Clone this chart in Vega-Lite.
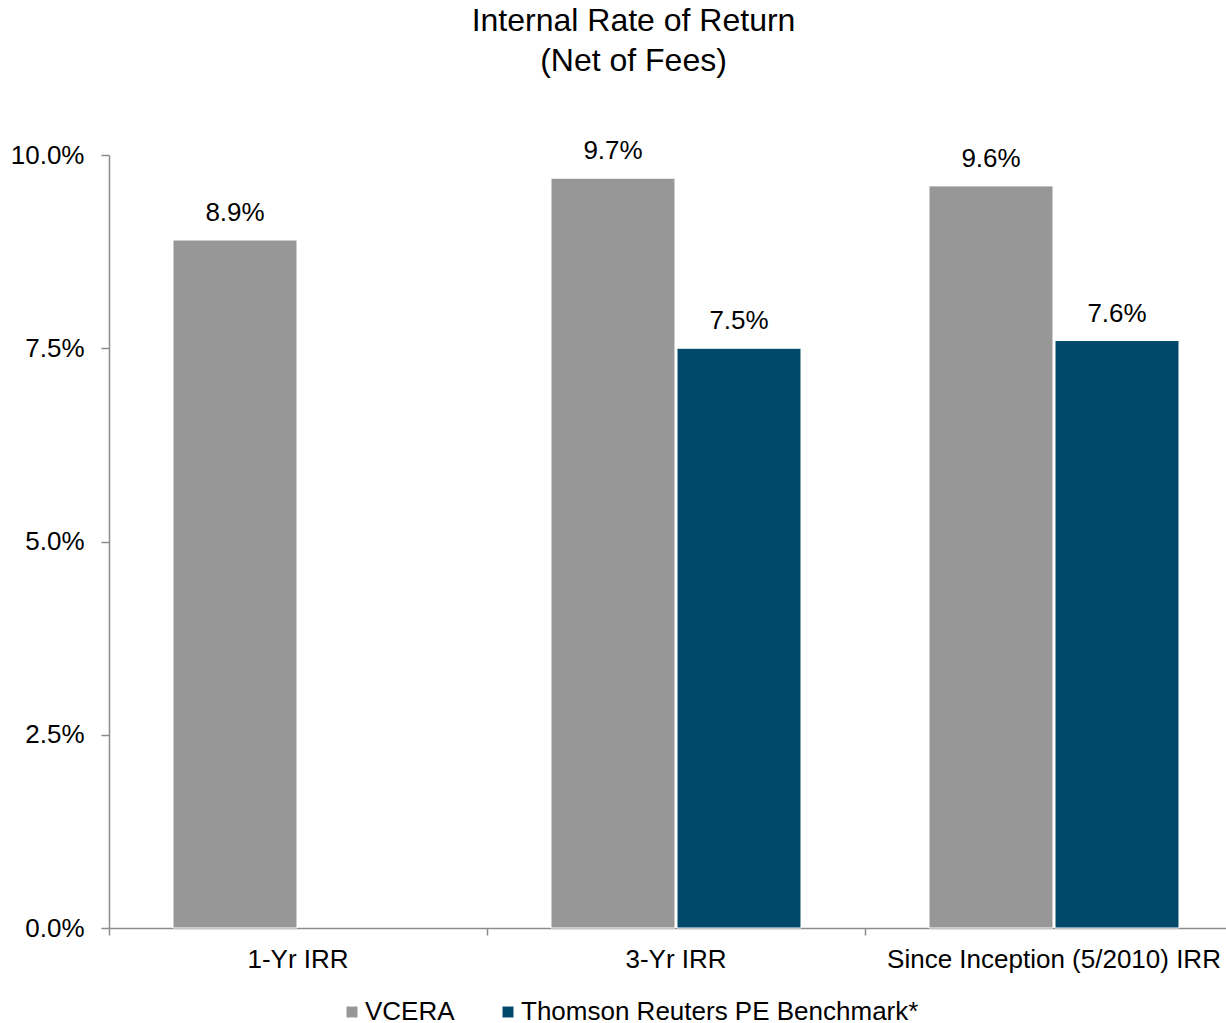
{
  "$schema": "https://vega.github.io/schema/vega-lite/v6.json",
  "autosize": {"type": "none"},
  "width": 1117,
  "height": 773,
  "padding": {"left": 109, "top": 155, "right": 0, "bottom": 95},
  "background": "white",
  "title": {
    "text": ["Internal Rate of Return", "(Net of Fees)"],
    "fontSize": 32,
    "font": "Liberation Sans",
    "fontWeight": "normal",
    "color": "#000000",
    "anchor": "middle",
    "dx": -34,
    "offset": 60,
    "lineHeight": 40
  },
  "data": {
    "values": [
      {"period": "1-Yr IRR", "series": "VCERA", "irr": 0.089},
      {"period": "3-Yr IRR", "series": "VCERA", "irr": 0.097},
      {"period": "3-Yr IRR", "series": "Thomson Reuters PE Benchmark*", "irr": 0.075},
      {"period": "Since Inception (5/2010) IRR", "series": "VCERA", "irr": 0.096},
      {"period": "Since Inception (5/2010) IRR", "series": "Thomson Reuters PE Benchmark*", "irr": 0.076}
    ]
  },
  "encoding": {
    "x": {
      "field": "period",
      "type": "nominal",
      "sort": null,
      "scale": {"range": [0, 1134], "paddingInner": 0, "paddingOuter": 0},
      "axis": {
        "title": null,
        "bandPosition": 0,
        "tickSize": 7,
        "labelPadding": 11,
        "labelAngle": 0,
        "labelFontSize": 26,
        "labelFont": "Liberation Sans",
        "labelColor": "#000000",
        "labelOverlap": false,
        "labelBound": false,
        "labelLimit": 0,
        "domainColor": "#8c8c8c",
        "tickColor": "#8c8c8c",
        "domainWidth": 1.5,
        "tickWidth": 1.5
      }
    },
    "xOffset": {
      "field": "series",
      "type": "nominal",
      "sort": ["VCERA", "Thomson Reuters PE Benchmark*"],
      "scale": {"paddingInner": 0.016, "paddingOuter": 0.508}
    },
    "y": {
      "field": "irr",
      "type": "quantitative",
      "scale": {"domain": [0, 0.1], "nice": false},
      "axis": {
        "values": [0, 0.025, 0.05, 0.075, 0.1],
        "format": ".1%",
        "title": null,
        "grid": false,
        "tickSize": 8,
        "labelPadding": 17,
        "labelFontSize": 26,
        "labelFont": "Liberation Sans",
        "labelColor": "#000000",
        "domainColor": "#8c8c8c",
        "tickColor": "#8c8c8c",
        "domainWidth": 1.5,
        "tickWidth": 1.5
      }
    }
  },
  "layer": [
    {
      "mark": {"type": "bar", "stroke": "white", "strokeWidth": 1},
      "encoding": {
        "color": {
          "field": "series",
          "type": "nominal",
          "sort": ["VCERA", "Thomson Reuters PE Benchmark*"],
          "scale": {
            "domain": ["VCERA", "Thomson Reuters PE Benchmark*"],
            "range": ["#979797", "#00496b"]
          },
          "legend": {
            "orient": "none",
            "legendX": 230,
            "legendY": 844,
            "direction": "horizontal",
            "title": null,
            "symbolType": "square",
            "symbolSize": 120,
            "symbolStrokeWidth": 0,
            "labelFontSize": 26,
            "labelFont": "Liberation Sans",
            "labelColor": "#000000",
            "labelLimit": 0,
            "columnPadding": 40,
            "labelOffset": 0
          }
        }
      }
    },
    {
      "mark": {
        "type": "text",
        "dy": -19,
        "baseline": "alphabetic",
        "fontSize": 26,
        "font": "Liberation Sans",
        "color": "#000000"
      },
      "encoding": {
        "text": {"field": "irr", "type": "quantitative", "format": ".1%"}
      }
    }
  ],
  "config": {
    "view": {"stroke": null}
  }
}
